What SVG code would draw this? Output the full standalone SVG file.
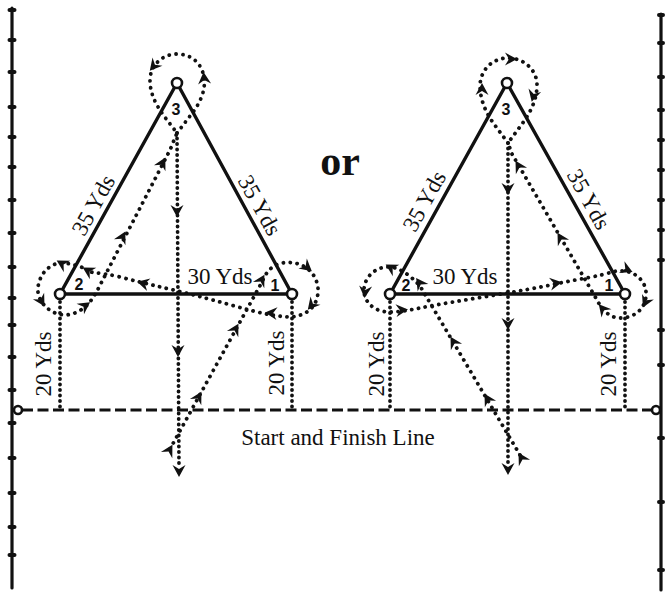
<svg xmlns="http://www.w3.org/2000/svg" xmlns:xlink="http://www.w3.org/1999/xlink" width="665" height="597" viewBox="0 0 665 597">
<style>
.tri{fill:none;stroke:#111;stroke-width:3.4;stroke-linejoin:round}
.node{fill:#fff;stroke:#111;stroke-width:2.6}
.dot{fill:none;stroke:#111;stroke-width:3.8;stroke-linecap:round;stroke-dasharray:0.1 6.8}
.dotd{fill:none;stroke:#111;stroke-width:3.8;stroke-linecap:round;stroke-dasharray:0.1 5.4}
.dash{fill:none;stroke:#111;stroke-width:3.2;stroke-dasharray:11 4.5}
.border{fill:none;stroke:#111;stroke-width:3.2;stroke-linecap:round}
.tick{stroke:#111;stroke-width:4;stroke-linecap:round}
.lbl{font-family:"Liberation Serif","Times New Roman",serif;font-size:23px;fill:#111;text-anchor:middle}
.num{font-family:"Liberation Sans",Arial,sans-serif;font-size:16px;font-weight:bold;fill:#111;text-anchor:middle}
.ah{fill:#111}
</style>
<defs>
<path id="ah" d="M5,0 L-7,-6.5 L-3,0 L-7,6.5 Z"/>
</defs>
<rect width="665" height="597" fill="#fff"/>

<g id="field">
<path class="border" d="M12,8 L12,588"/>
<path class="tick" d="M9.5,10h5M9.5,40h5M9.5,72h5M9.5,107h5M9.5,137h5M9.5,167h5M9.5,200h5M9.5,233h5M9.5,267h5M9.5,298h5M9.5,325h5M9.5,357h5M9.5,390h5M9.5,423h5M9.5,458h5M9.5,493h5M9.5,527h5M9.5,555h5"/>
<path class="border" d="M661,14 L661,590"/>
<path class="tick" d="M659,15h4M659,43h4M659,77h4M659,110h4M659,140h4M659,170h4M659,200h4M659,230h4M659,260h4M659,330h4M659,365h4M659,438h4M659,502h4M659,570h4"/>
<path class="dash" d="M22,410 L651,410"/>
<circle class="node" cx="18" cy="410" r="4"/>
<circle class="node" cx="656" cy="410" r="4"/>
<text class="lbl" x="338" y="445">Start and Finish Line</text>
<text x="340" y="175" style="font-family:'Liberation Serif','Times New Roman',serif;font-size:42px;font-weight:bold;fill:#111;text-anchor:middle">or</text>
</g>

<g id="triangle-left">
<path class="tri" d="M60,294 L177,83 L292,294 Z"/>
<circle id="L3" class="node" cx="177" cy="83" r="5"/>
<circle id="L2" class="node" cx="60" cy="294" r="5"/>
<circle id="L1" class="node" cx="292" cy="294" r="5"/>
<text class="num" x="176" y="115">3</text>
<text class="num" x="79" y="290">2</text>
<text class="num" x="275" y="291">1</text>
<text class="lbl" transform="translate(93,205) rotate(-61)" y="8">35 Yds</text>
<text class="lbl" transform="translate(260,205) rotate(61)" y="8">35 Yds</text>
<text class="lbl" x="220" y="284">30 Yds</text>
<text class="lbl" transform="translate(43,364) rotate(-90)" y="8">20 Yds</text>
<text class="lbl" transform="translate(276,363) rotate(-90)" y="8">20 Yds</text>
</g>

<g id="triangle-right">
<path class="tri" d="M390,294 L507,83 L625,294 Z"/>
<circle id="R3" class="node" cx="507" cy="83" r="5"/>
<circle id="R2" class="node" cx="390" cy="294" r="5"/>
<circle id="R1" class="node" cx="625" cy="294" r="5"/>
<text class="num" x="506" y="115">3</text>
<text class="num" x="406" y="291">2</text>
<text class="num" x="609" y="291">1</text>
<text class="lbl" transform="translate(424,201) rotate(-61)" y="8">35 Yds</text>
<text class="lbl" transform="translate(589,199) rotate(61)" y="8">35 Yds</text>
<text class="lbl" x="465" y="284">30 Yds</text>
<text class="lbl" transform="translate(376,364) rotate(-90)" y="8">20 Yds</text>
<text class="lbl" transform="translate(608,364) rotate(-90)" y="8">20 Yds</text>
</g>

<g id="connectors">
<path class="dotd" d="M60,302 L60,407 M292,302 L292,407 M390,302 L390,407 M625,302 L625,407"/>
<path class="dot" d="M170,449 L262,282 C266,272 272,265 282,263 C300,260 316,270 318,288 C319,305 308,316 290,317 C265,316 240,307 205,298 C180,291 150,285 120,277 C108,274 98,273 90,272"/>
<path class="dot" d="M88,270 C80,266 70,263 60,263 C45,265 37,280 38,292 C40,305 52,315 66,315 C76,314 84,309 90,302 L96,293 L170,150 L177,133"/>
<path class="dot" d="M177,133 L190,116 C200,104 206,90 204,78 C202,62 190,54 177,54 C162,54 150,66 150,80 C150,95 157,106 164,116 L177,133"/>
<path class="dotd" d="M177,133 L179,468"/>
<g class="ah">
<use xlink:href="#ah" transform="translate(170,449) rotate(-61)"/>
<use xlink:href="#ah" transform="translate(199,396) rotate(-61)"/>
<use xlink:href="#ah" transform="translate(236,328) rotate(-61)"/>
<use xlink:href="#ah" transform="translate(262,279) rotate(-61)"/>
<use xlink:href="#ah" transform="translate(308,268) rotate(40)"/>
<use xlink:href="#ah" transform="translate(311,306) rotate(130)"/>
<use xlink:href="#ah" transform="translate(270,313) rotate(185)"/>
<use xlink:href="#ah" transform="translate(142,283) rotate(195)"/>
<use xlink:href="#ah" transform="translate(87,270) rotate(210)"/>
<use xlink:href="#ah" transform="translate(61,263) rotate(210)"/>
<use xlink:href="#ah" transform="translate(42,302) rotate(60)"/>
<use xlink:href="#ah" transform="translate(86,305) rotate(-35)"/>
<use xlink:href="#ah" transform="translate(123,236) rotate(-62)"/>
<use xlink:href="#ah" transform="translate(163,162) rotate(-62)"/>
<use xlink:href="#ah" transform="translate(204,77) rotate(-95)"/>
<use xlink:href="#ah" transform="translate(153,67) rotate(130)"/>
<use xlink:href="#ah" transform="translate(177,212) rotate(90)"/>
<use xlink:href="#ah" transform="translate(178,352) rotate(90)"/>
<use xlink:href="#ah" transform="translate(179,472) rotate(90)"/>
</g>
<path class="dot" d="M520,455 L420,286 C410,275 400,268 390,267 C375,266 364,278 364,290 C364,303 375,312 390,312 C400,312 410,310 420,308 C460,300 520,292 560,283 C580,279 600,276 612,272 C630,267 645,278 646,292 C647,308 635,318 620,318 C610,318 602,310 597,300 L512,154 L508,143"/>
<path class="dot" d="M508,143 L494,124 C486,113 480,100 480,85 C481,68 494,58 508,58 C524,58 537,70 537,85 C537,100 530,113 522,124 L508,143"/>
<path class="dotd" d="M508,143 L508,466"/>
<g class="ah">
<use xlink:href="#ah" transform="translate(521,457) rotate(-120)"/>
<use xlink:href="#ah" transform="translate(487,398) rotate(-120)"/>
<use xlink:href="#ah" transform="translate(453,341) rotate(-120)"/>
<use xlink:href="#ah" transform="translate(419,282) rotate(-125)"/>
<use xlink:href="#ah" transform="translate(390,267) rotate(210)"/>
<use xlink:href="#ah" transform="translate(365,293) rotate(95)"/>
<use xlink:href="#ah" transform="translate(403,310) rotate(-5)"/>
<use xlink:href="#ah" transform="translate(557,283) rotate(-10)"/>
<use xlink:href="#ah" transform="translate(628,270) rotate(25)"/>
<use xlink:href="#ah" transform="translate(645,303) rotate(115)"/>
<use xlink:href="#ah" transform="translate(602,308) rotate(-130)"/>
<use xlink:href="#ah" transform="translate(560,237) rotate(-120)"/>
<use xlink:href="#ah" transform="translate(518,165) rotate(-120)"/>
<use xlink:href="#ah" transform="translate(482,88) rotate(-90)"/>
<use xlink:href="#ah" transform="translate(512,59) rotate(0)"/>
<use xlink:href="#ah" transform="translate(533,97) rotate(105)"/>
<use xlink:href="#ah" transform="translate(508,190) rotate(90)"/>
<use xlink:href="#ah" transform="translate(508,325) rotate(90)"/>
<use xlink:href="#ah" transform="translate(508,470) rotate(90)"/>
</g>
</g>
</svg>
